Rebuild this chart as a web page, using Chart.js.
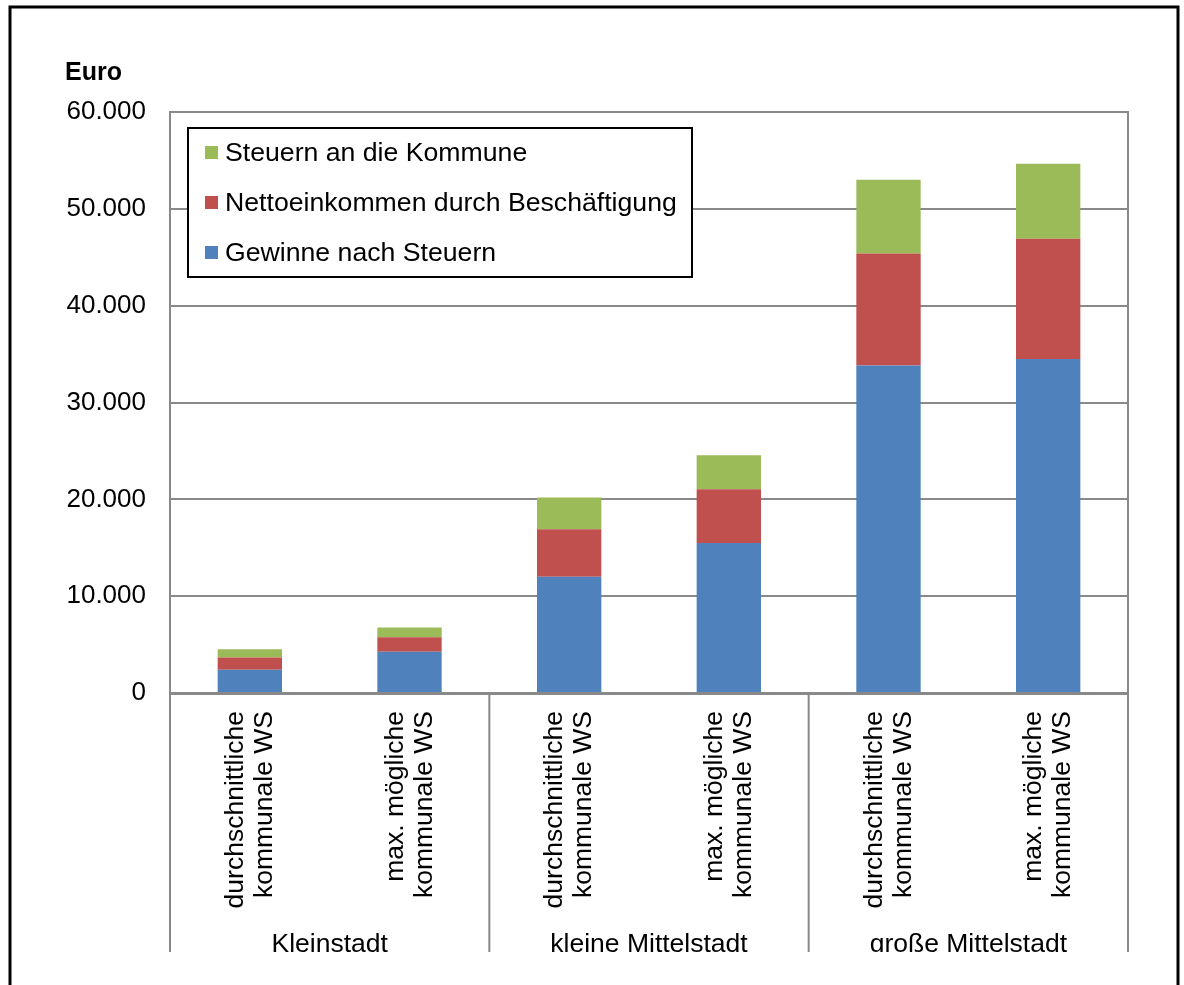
<!DOCTYPE html>
<html>
<head>
<meta charset="utf-8">
<script src="https://cdn.jsdelivr.net/npm/chart.js@4"></script>
<style>
  body { margin: 0; background: #fff; }
  canvas { display: block; }
</style>
</head>
<body>
<canvas id="chart" width="1184" height="985"></canvas>
<script>
const categories = [
  ['durchschnittliche', 'kommunale WS'],
  ['max. mögliche', 'kommunale WS'],
  ['durchschnittliche', 'kommunale WS'],
  ['max. mögliche', 'kommunale WS'],
  ['durchschnittliche', 'kommunale WS'],
  ['max. mögliche', 'kommunale WS']
];
const groups = ['Kleinstadt', 'kleine Mittelstadt', 'große Mittelstadt'];
const gewinne = [2400, 4260, 12010, 15480, 33810, 34500];
const netto = [1270, 1510, 4890, 5550, 11590, 12400];
const steuern = [860, 1000, 3280, 3510, 7610, 7750];
const seriesNames = ['Gewinne nach Steuern', 'Nettoeinkommen durch Beschäftigung', 'Steuern an die Kommune'];

const FONT = '"Liberation Sans", Arial, sans-serif';
const GRID = '#898989';

// draws text a bit wider than the font, like the reference
function wideText(ctx, t, x, y, sx) {
  ctx.save();
  ctx.translate(x, y);
  ctx.scale(sx, 1);
  ctx.fillText(t, 0, 0);
  ctx.restore();
}

const extras = {
  id: 'extras',
  afterDraw(chart) {
    const ctx = chart.ctx;
    const area = chart.chartArea;
    const x = chart.scales.x;
    ctx.save();

    // plot frame top/right
    ctx.strokeStyle = GRID;
    ctx.lineWidth = 2;
    ctx.beginPath();
    ctx.moveTo(area.left, area.top);
    ctx.lineTo(area.right, area.top);
    ctx.lineTo(area.right, area.bottom);
    ctx.stroke();

    // outer black frame (bottom cropped)
    ctx.strokeStyle = '#000';
    ctx.lineWidth = 3;
    ctx.beginPath();
    ctx.moveTo(10, 985);
    ctx.lineTo(10, 7);
    ctx.lineTo(1178, 7);
    ctx.lineTo(1178, 985);
    ctx.stroke();

    // axis title
    ctx.fillStyle = '#000';
    ctx.font = 'bold 25px ' + FONT;
    ctx.textAlign = 'left';
    ctx.textBaseline = 'alphabetic';
    ctx.fillText('Euro', 65, 80);

    // legend box
    ctx.lineWidth = 2;
    ctx.strokeStyle = '#000';
    ctx.fillStyle = '#fff';
    ctx.fillRect(188, 128, 504, 149);
    ctx.strokeRect(188, 128, 504, 149);
    ctx.font = '25px ' + FONT;
    ctx.textBaseline = 'middle';
    const ds = chart.data.datasets.slice().reverse();
    ds.forEach((d, i) => {
      const cy = 153 + i * 50;
      ctx.fillStyle = d.backgroundColor;
      ctx.fillRect(205, cy - 7, 13, 13);
      ctx.fillStyle = '#000';
      wideText(ctx, d.label, 225, cy + 1, 1.066);
    });

    // rotated category labels
    ctx.font = '26.5px ' + FONT;
    categories.forEach((lines, i) => {
      const cx = x.getPixelForValue(i);
      lines.forEach((t, j) => {
        ctx.save();
        ctx.translate(cx - 14 + j * 29, area.bottom + 18);
        ctx.rotate(-Math.PI / 2);
        ctx.textAlign = 'right';
        ctx.textBaseline = 'middle';
        ctx.fillText(t, 0, 0);
        ctx.restore();
      });
    });

    // group separators and labels
    const bottom = 952;
    ctx.strokeStyle = GRID;
    ctx.lineWidth = 2;
    const per = categories.length / groups.length;
    for (let g = 0; g <= groups.length; g++) {
      let sx;
      if (g === 0) sx = area.left;
      else if (g === groups.length) sx = area.right;
      else sx = (x.getPixelForValue(g * per - 1) + x.getPixelForValue(g * per)) / 2;
      ctx.beginPath();
      ctx.moveTo(sx, area.bottom);
      ctx.lineTo(sx, bottom);
      ctx.stroke();
    }
    ctx.save();
    ctx.beginPath();
    ctx.rect(0, 0, 1184, bottom);
    ctx.clip();
    ctx.textAlign = 'center';
    ctx.textBaseline = 'alphabetic';
    ctx.font = '26.5px ' + FONT;
    groups.forEach((g, i) => {
      const gx = (x.getPixelForValue(i * per) + x.getPixelForValue(i * per + per - 1)) / 2;
      ctx.fillText(g, gx, 952);
    });
    ctx.restore();

    ctx.restore();
  }
};

new Chart(document.getElementById('chart'), {
  type: 'bar',
  data: {
    labels: categories,
    datasets: [
      { label: seriesNames[0], data: gewinne, backgroundColor: '#4F81BD' },
      { label: seriesNames[1], data: netto, backgroundColor: '#C0504D' },
      { label: seriesNames[2], data: steuern, backgroundColor: '#9BBB59' }
    ]
  },
  options: {
    responsive: false,
    animation: false,
    layout: { padding: { top: 112, right: 56, bottom: 284, left: 0 } },
    datasets: { bar: { barPercentage: 0.403, categoryPercentage: 1 } },
    plugins: { legend: { display: false }, tooltip: { enabled: false } },
    scales: {
      x: {
        stacked: true,
        ticks: { display: false },
        grid: { display: false },
        border: { display: true, color: GRID, width: 3 }
      },
      y: {
        stacked: true,
        min: 0,
        max: 60000,
        afterFit(scale) { scale.width = 170; },
        ticks: {
          stepSize: 10000,
          padding: 24,
          color: '#000',
          font: { family: FONT, size: 26 },
          callback: v => String(v).replace(/\B(?=(\d{3})+(?!\d))/g, '.')
        },
        grid: { color: GRID, lineWidth: 2, drawTicks: false },
        border: { display: true, color: GRID, width: 2 }
      }
    }
  },
  plugins: [extras]
});
</script>
</body>
</html>
